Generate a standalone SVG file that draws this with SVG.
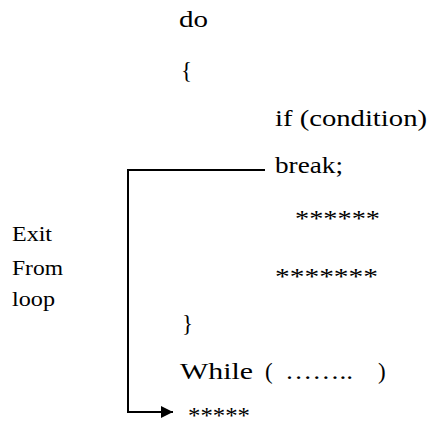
<svg xmlns="http://www.w3.org/2000/svg" width="430" height="427" viewBox="0 0 430 427" font-family="Liberation Serif, Times New Roman, serif">
  <style>
    .code { font-size: 23px; fill: #000; }
    .note { font-size: 21px; fill: #000; }
    .wire { fill: none; stroke: #000; stroke-width: 2; }
  </style>
  <defs>
    <marker id="arrow" viewBox="0 0 12 12" refX="12" refY="6" markerWidth="12" markerHeight="12" markerUnits="userSpaceOnUse" orient="auto">
      <path d="M0,0 L12,6 L0,12 Z" fill="#000"/>
    </marker>
  </defs>
  <rect width="430" height="427" fill="#fff"/>

  <!-- do ... while loop body -->
  <g id="code" font-family="Liberation Serif, serif">
    <text class="code" x="179" y="27" textLength="29" lengthAdjust="spacingAndGlyphs">do</text>
    <text class="code" x="181" y="78">{</text>
    <text class="code" x="275" y="126" textLength="152" lengthAdjust="spacingAndGlyphs">if (condition)</text>
    <text class="code" x="275" y="173" textLength="68" lengthAdjust="spacingAndGlyphs">break;</text>
    <text class="code" x="295" y="226" textLength="85" lengthAdjust="spacingAndGlyphs">******</text>
    <text class="code" x="275" y="284" textLength="103" lengthAdjust="spacingAndGlyphs">*******</text>
    <text class="code" x="182" y="331">}</text>
    <text class="code" x="180" y="379" textLength="73" lengthAdjust="spacingAndGlyphs">While</text>
    <text class="code" x="265" y="379">(</text>
    <text class="code" x="285" y="379" textLength="68" lengthAdjust="spacingAndGlyphs">……..</text>
    <text class="code" x="378" y="379">)</text>
    <text class="code" x="188" y="423" textLength="62" lengthAdjust="spacingAndGlyphs">*****</text>
  </g>

  <!-- side label -->
  <g id="label" font-family="Liberation Serif, serif">
    <text class="note" x="12" y="241" textLength="40" lengthAdjust="spacingAndGlyphs">Exit</text>
    <text class="note" x="12" y="275" textLength="51" lengthAdjust="spacingAndGlyphs">From</text>
    <text class="note" x="12" y="306" textLength="43" lengthAdjust="spacingAndGlyphs">loop</text>
  </g>

  <!-- jump from break to the statement after the loop -->
  <g id="connectors">
    <path class="wire" d="M265,170 H128 V412 H173" marker-end="url(#arrow)"/>
  </g>
</svg>
